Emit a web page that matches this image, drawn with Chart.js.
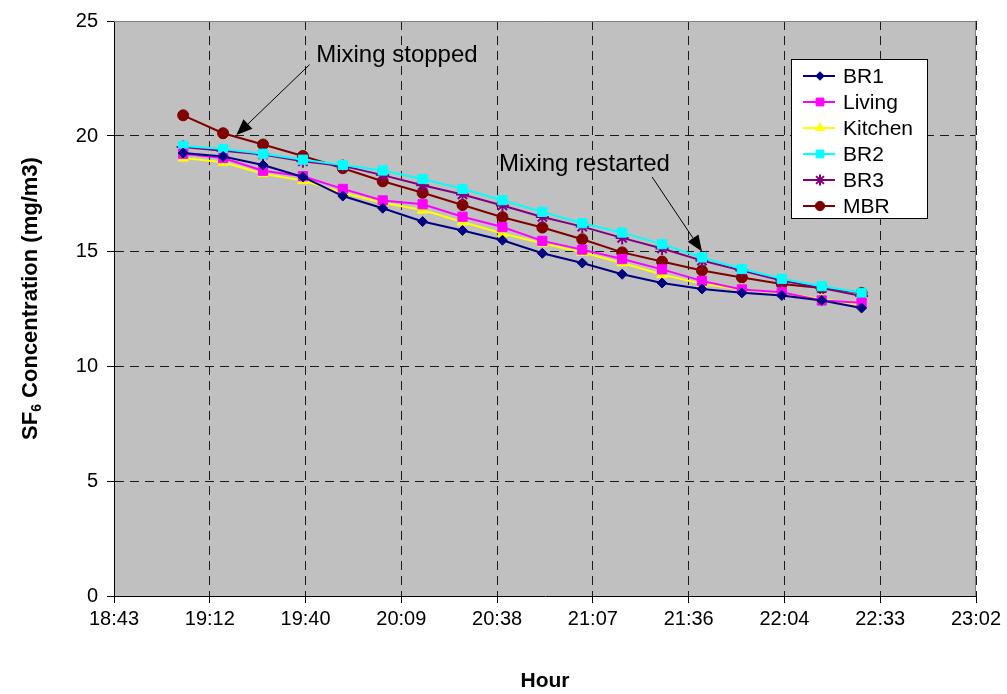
<!DOCTYPE html>
<html>
<head>
<meta charset="utf-8">
<script src="https://cdn.jsdelivr.net/npm/chart.js@4.4.0/dist/chart.umd.min.js"></script>
<style>
  html, body { margin: 0; padding: 0; background: #fff; }
  #wrap { width: 1007px; height: 694px; }
</style>
</head>
<body>
<div id="wrap"><canvas id="sf6Chart" width="1007" height="694"></canvas></div>
<script>
// Sample times (hh:mm) and SF6 concentrations per room (mg/m3)
const times = ['19:04', '19:16', '19:28', '19:40', '19:52', '20:04', '20:16', '20:28', '20:40',
               '20:52', '21:04', '21:16', '21:28', '21:40', '21:52', '22:04', '22:16', '22:28'];

const br1 =     [19.26, 19.11, 18.74, 18.22, 17.39, 16.86, 16.28, 15.89, 15.47, 14.90, 14.48, 13.99, 13.61, 13.35, 13.18, 13.07, 12.85, 12.52];
const living =  [19.23, 19.04, 18.49, 18.25, 17.70, 17.20, 17.03, 16.49, 16.04, 15.44, 15.06, 14.65, 14.20, 13.70, 13.33, 13.21, 12.85, 12.75];
const kitchen = [19.04, 18.86, 18.36, 18.06, 17.53, 17.10, 16.78, 16.26, 15.76, 15.34, 14.94, 14.48, 13.98, 13.57, 13.33, 13.18, 12.90, 12.66];
const br2 =     [19.57, 19.43, 19.23, 18.97, 18.74, 18.50, 18.13, 17.70, 17.21, 16.70, 16.21, 15.80, 15.30, 14.72, 14.22, 13.79, 13.47, 13.18];
const br3 =     [19.52, 19.36, 19.20, 18.90, 18.70, 18.30, 17.86, 17.46, 16.98, 16.48, 16.06, 15.57, 15.11, 14.58, 14.15, 13.72, 13.39, 13.04];
const mbr =     [20.90, 20.12, 19.63, 19.13, 18.60, 18.03, 17.53, 17.00, 16.47, 16.02, 15.51, 14.94, 14.54, 14.15, 13.85, 13.57, 13.39, 13.18];

// x axis runs in fractions of a day, like the spreadsheet it came from
const tickDays = [0.78, 0.80, 0.82, 0.84, 0.86, 0.88, 0.90, 0.92, 0.94, 0.96];
const tickLabels = ['18:43', '19:12', '19:40', '20:09', '20:38', '21:07', '21:36', '22:04', '22:33', '23:02'];
const yTicks = [0, 5, 10, 15, 20, 25];

// callouts: text anchor, arrow start, arrow tip (time, value)
const notes = [
    { text: 'Mixing stopped',   at: ['19:44', 23.22], from: ['19:42', 23.10], to: ['19:20', 20.04] },
    { text: 'Mixing restarted', at: ['20:39', 18.48], from: ['21:25', 18.22], to: ['21:40', 14.98] }
];

const FONT = "'Liberation Sans', Arial, Helvetica, sans-serif";

function toDay(s) {
    const [h, m] = s.split(':').map(Number);
    return (h * 60 + m) / 1440;
}

function series(values) {
    return values.map((v, i) => ({ x: toDay(times[i]), y: v }));
}

const datasets = [
    { label: 'BR1',     data: series(br1),     color: '#000080', pointStyle: 'rectRot',  radius: 5 },
    { label: 'Living',  data: series(living),  color: '#FF00FF', pointStyle: 'rect',     radius: 6.5 },
    { label: 'Kitchen', data: series(kitchen), color: '#FFFF00', pointStyle: 'triangle', radius: 6 },
    { label: 'BR2',     data: series(br2),     color: '#00FFFF', pointStyle: 'rect',     radius: 6.5 },
    { label: 'BR3',     data: series(br3),     color: '#800080', pointStyle: 'star',     radius: 6.5 },
    { label: 'MBR',     data: series(mbr),     color: '#800000', pointStyle: 'circle',   radius: 5.5 }
].map(d => ({
    label: d.label,
    data: d.data,
    borderColor: d.color,
    backgroundColor: d.color,
    pointBackgroundColor: d.color,
    pointBorderColor: d.color,
    pointStyle: d.pointStyle,
    pointRadius: d.radius,
    pointBorderWidth: d.pointStyle === 'star' ? 2 : 1,
    borderWidth: 2,
    tension: 0,
    fill: false
}));

function drawArrow(ctx, x1, y1, x2, y2) {
    const ang = Math.atan2(y2 - y1, x2 - x1);
    const len = 16, half = 6.5;
    const bx = x2 - len * Math.cos(ang), by = y2 - len * Math.sin(ang);
    ctx.beginPath();
    ctx.moveTo(x1, y1);
    ctx.lineTo(bx, by);
    ctx.stroke();
    ctx.beginPath();
    ctx.moveTo(x2, y2);
    ctx.lineTo(bx + half * Math.sin(ang), by - half * Math.cos(ang));
    ctx.lineTo(bx - half * Math.sin(ang), by + half * Math.cos(ang));
    ctx.closePath();
    ctx.fill();
}

const plotFrame = {
    id: 'plotFrame',
    beforeDraw(chart) {
        const { ctx, chartArea: a } = chart;
        ctx.save();
        ctx.fillStyle = '#C0C0C0';
        ctx.fillRect(a.left, a.top, a.right - a.left, a.bottom - a.top);
        ctx.restore();
    },
    afterDraw(chart) {
        const { ctx, chartArea: a, scales } = chart;
        ctx.save();

        // gray top / right edge of the plot area
        ctx.strokeStyle = '#808080';
        ctx.lineWidth = 1;
        ctx.beginPath();
        ctx.moveTo(a.left, Math.round(a.top) + 0.5);
        ctx.lineTo(Math.round(a.right) - 0.5, Math.round(a.top) + 0.5);
        ctx.lineTo(Math.round(a.right) - 0.5, a.bottom);
        ctx.stroke();

        // callouts
        ctx.fillStyle = '#000';
        ctx.strokeStyle = '#000';
        ctx.lineWidth = 1;
        ctx.font = '24px ' + FONT;
        ctx.textBaseline = 'alphabetic';
        ctx.textAlign = 'left';
        notes.forEach(n => {
            const px = p => [scales.x.getPixelForValue(toDay(p[0])), scales.y.getPixelForValue(p[1])];
            const [tx, ty] = px(n.at);
            ctx.fillText(n.text, tx, ty);
            const [fx, fy] = px(n.from);
            const [ex, ey] = px(n.to);
            drawArrow(ctx, fx, fy, ex, ey);
        });

        // legend box
        const bx = a.right - 185, by = a.top + 38, bw = 136, bh = 159;
        ctx.fillStyle = '#fff';
        ctx.fillRect(bx, by, bw, bh);
        ctx.strokeStyle = '#000';
        ctx.strokeRect(bx + 0.5, by + 0.5, bw, bh);
        ctx.font = '21px ' + FONT;
        ctx.textBaseline = 'middle';
        chart.data.datasets.forEach((ds, i) => {
            const y = by + 17 + i * 26;
            ctx.strokeStyle = ds.borderColor;
            ctx.lineWidth = 2;
            ctx.beginPath();
            ctx.moveTo(bx + 12, y);
            ctx.lineTo(bx + 44, y);
            ctx.stroke();
            ctx.fillStyle = ds.pointBackgroundColor;
            ctx.strokeStyle = ds.pointBorderColor;
            ctx.lineWidth = ds.pointBorderWidth;
            Chart.helpers.drawPoint(ctx, {
                pointStyle: ds.pointStyle, radius: ds.pointRadius * 0.85,
                borderWidth: ds.pointBorderWidth, rotation: 0
            }, bx + 29, y);
            ctx.fillStyle = '#000';
            ctx.fillText(ds.label, bx + 52, y + 1);
        });

        // y title with subscript 6
        ctx.translate(31, (a.top + a.bottom) / 2 - 10);
        ctx.rotate(-Math.PI / 2);
        ctx.fillStyle = '#000';
        ctx.textBaseline = 'middle';
        const big = 'bold 22px ' + FONT, small = 'bold 14px ' + FONT;
        const p1 = 'SF', p2 = '6', p3 = ' Concentration (mg/m3)';
        ctx.font = big;
        const w1 = ctx.measureText(p1).width, w3 = ctx.measureText(p3).width;
        ctx.font = small;
        const w2 = ctx.measureText(p2).width;
        let x = -(w1 + w2 + w3) / 2;
        ctx.font = big;
        ctx.fillText(p1, x, 0);
        x += w1;
        ctx.font = small;
        ctx.fillText(p2, x, 6);
        x += w2;
        ctx.font = big;
        ctx.fillText(p3, x, 0);

        ctx.restore();
    }
};

new Chart(document.getElementById('sf6Chart'), {
    type: 'line',
    data: { datasets },
    options: {
        responsive: false,
        animation: false,
        layout: { padding: { top: 17, right: 31, left: 0, bottom: 0 } },
        plugins: {
            legend: { display: false },
            tooltip: { enabled: false }
        },
        scales: {
            x: {
                type: 'linear',
                min: tickDays[0],
                max: tickDays[tickDays.length - 1],
                afterBuildTicks: s => { s.ticks = tickDays.map(v => ({ value: v })); },
                afterFit: s => { s.height = 98; },
                ticks: {
                    color: '#000',
                    font: { family: FONT, size: 20 },
                    padding: 4,
                    maxRotation: 0,
                    autoSkip: false,
                    callback: (v, i) => tickLabels[i]
                },
                grid: {
                    color: '#1a1a1a',
                    lineWidth: 1,
                    tickLength: 7,
                    tickColor: '#000'
                },
                border: { display: true, color: '#000', width: 1, dash: [9, 6] },
                title: {
                    display: true,
                    text: 'Hour',
                    color: '#000',
                    font: { family: FONT, size: 21, weight: 'bold' },
                    padding: { top: 0, bottom: 0 }
                }
            },
            y: {
                min: 0,
                max: 25,
                afterBuildTicks: s => { s.ticks = yTicks.map(v => ({ value: v })); },
                afterFit: s => { s.width = 114; },
                ticks: {
                    color: '#000',
                    font: { family: FONT, size: 20 },
                    padding: 9
                },
                grid: {
                    color: '#1a1a1a',
                    lineWidth: 1,
                    tickLength: 7,
                    tickColor: '#000'
                },
                border: { display: true, color: '#000', width: 1, dash: [9, 6] }
            }
        }
    },
    plugins: [plotFrame]
});
</script>
</body>
</html>
